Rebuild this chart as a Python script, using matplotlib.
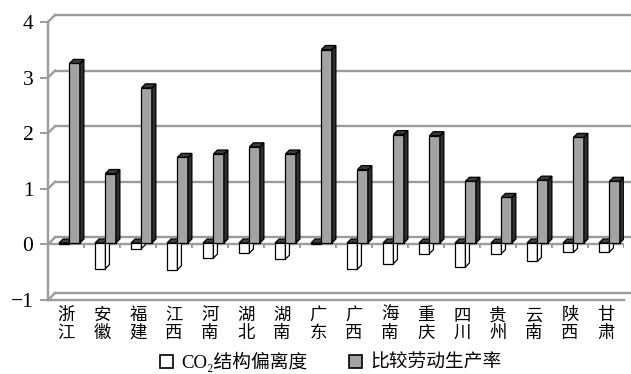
import matplotlib
matplotlib.use("Agg")
import matplotlib.pyplot as plt
from matplotlib.patches import Polygon, Patch
import numpy as np

provinces = ["浙江", "安徽", "福建", "江西", "河南", "湖北", "湖南", "广东",
             "广西", "海南", "重庆", "四川", "贵州", "云南", "陕西", "甘肃"]
co2_dev = [-0.02, -0.46, -0.10, -0.48, -0.27, -0.18, -0.29, -0.02,
           -0.47, -0.37, -0.19, -0.43, -0.19, -0.33, -0.17, -0.16]
labor_prod = [3.23, 1.25, 2.79, 1.54, 1.60, 1.73, 1.60, 3.48,
              1.32, 1.95, 1.93, 1.11, 0.82, 1.13, 1.90, 1.11]
yticks = [-1, 0, 1, 2, 3, 4]
legend_labels = ["CO\u2082结构偏离度", "比较劳动生产率"]

# layout in pixels
W, H = 631, 374
AX_L, AX_R, AX_T, AX_B = 48, 624, 22, 300
n = len(provinces)
XU = (AX_R - AX_L) / n          # px per category
YU = (AX_B - AX_T) / 5          # px per y unit
WALL = 7                        # depth of back wall, px
BAR_OFF = 2                     # bars sit a bit behind the front plane
BAR_D = 4                       # bar depth, px

GRID = "#9c9c9c"
SERIF = ["Liberation Serif", "Noto Sans CJK SC", "DejaVu Sans"]
CJK = ["Noto Sans CJK SC", "DejaVu Sans"]


def px(dx, dy):
    return dx / XU, dy / YU


fig = plt.figure(figsize=(W / 100, H / 100), dpi=100)
ax = fig.add_axes([AX_L / W, 1 - AX_B / H, (AX_R - AX_L) / W, (AX_B - AX_T) / H])
ax.set_xlim(0, n)
ax.set_ylim(-1, 4)

wx, wy = px(WALL, WALL)
# back wall gridlines + left wall diagonals
for y in yticks:
    ax.plot([wx, n + wx], [y + wy, y + wy], color=GRID, lw=1.7, zorder=1, clip_on=False)
    ax.plot([0, wx], [y, y + wy], color=GRID, lw=1.7, zorder=1, clip_on=False)
# floor front edge and category axis at 0
ax.plot([0, n], [-1, -1], color=GRID, lw=1.7, zorder=2, clip_on=False)
ax.plot([0, n], [0, 0], color=GRID, lw=1.7, zorder=2)
ax.vlines(np.arange(n + 1), -0.07, 0, color=GRID, lw=1.4, zorder=2)

ox, oy = px(BAR_OFF, BAR_OFF * 0.7)
dx, dy = px(BAR_D, BAR_D)
bw = 0.29


def bar3d(left, val, face, side, top, z):
    x0 = left + ox
    x1 = x0 + bw
    lo, hi = min(val, 0) + oy, max(val, 0) + oy
    ax.bar(x0, val, width=bw, bottom=oy, align="edge", color=face,
           edgecolor="black", lw=0.9, zorder=z)
    ax.add_patch(Polygon([(x1, lo), (x1, hi), (x1 + dx, hi + dy), (x1 + dx, lo + dy)],
                         closed=True, fc=side, ec="black", lw=0.9, zorder=z))
    ax.add_patch(Polygon([(x0, hi), (x1, hi), (x1 + dx, hi + dy), (x0 + dx, hi + dy)],
                         closed=True, fc=top, ec="black", lw=0.9, zorder=z))


for i in range(n):
    bar3d(i + 0.25, co2_dev[i], "white", "white", "#404040", 3)
    bar3d(i + 0.25 + bw, labor_prod[i], "#a3a3a3", "#2e2e2e", "#3a3a3a", 4)

for s in ["top", "right", "bottom"]:
    ax.spines[s].set_visible(False)
ax.spines["left"].set_color(GRID)
ax.spines["left"].set_linewidth(1.7)
ax.set_yticks(yticks, [str(v).replace("-", "\u2212") for v in yticks])
ax.tick_params(axis="y", length=5.5, width=1.4, color=GRID, pad=5)
for t in ax.get_yticklabels():
    t.set_family(SERIF)
    t.set_fontsize(15.5)
ax.set_xticks(np.arange(n) + 0.5, ["\n".join(p) for p in provinces])
ax.tick_params(axis="x", length=0, pad=4.5)
for t in ax.get_xticklabels():
    t.set_family(CJK)
    t.set_fontsize(12.5)
    t.set_linespacing(0.95)

handles = [Patch(fc="white", ec="black", lw=1.2), Patch(fc="#a3a3a3", ec="black", lw=1.2)]
fig.legend(handles, legend_labels, loc="center", bbox_to_anchor=(0.524, 0.032), ncol=2,
           frameon=False, prop={"family": SERIF, "size": 13.5},
           handlelength=0.7, handleheight=0.7, handletextpad=0.45, columnspacing=2.2)

fig.savefig("out.png", dpi=100)
